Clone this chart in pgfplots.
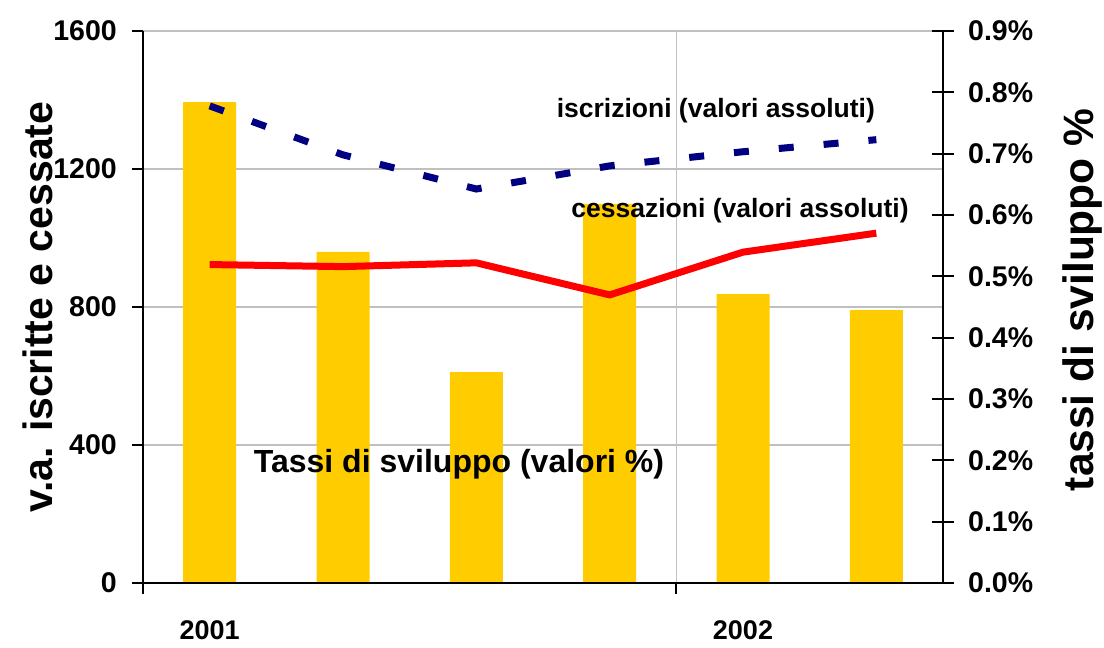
\documentclass[border=0pt]{standalone}
\usepackage{fontspec}
\setmainfont{Liberation Sans}
\usepackage{pgfplots}
\pgfplotsset{compat=1.18}
\definecolor{barc}{HTML}{FFCC00}
\definecolor{navyc}{HTML}{000080}
\definecolor{gridc}{HTML}{C0C0C0}
\begin{document}
\begin{tikzpicture}
\useasboundingbox (-143bp,-65bp) rectangle (961bp,583bp);
% grid only
\begin{axis}[at={(0,0)}, anchor=south west, scale only axis, width=800bp, height=552bp,
  xmin=-0.5, xmax=5.5, ymin=0, ymax=1600,
  axis line style={draw=none}, tick style={draw=none}, major tick length=0pt,
  xtick={-0.5,3.5}, xticklabels={}, ytick={400,800,1200,1600}, yticklabels={},
  xmajorgrids, ymajorgrids, grid style={gridc, line width=1.5bp}]
\addplot[draw=none] coordinates {(0,0)};
\end{axis}
% bars, right axis
\begin{axis}[at={(0,0)}, anchor=south west, scale only axis, width=800bp, height=552bp,
  xmin=-0.5, xmax=5.5, ymin=0, ymax=0.9,
  axis x line=none, axis y line*=right, axis line style={-, line width=2bp, black},
  ytick={0,0.1,0.2,0.3,0.4,0.5,0.6,0.7,0.8,0.9},
  yticklabels={0.0\%,0.1\%,0.2\%,0.3\%,0.4\%,0.5\%,0.6\%,0.7\%,0.8\%,0.9\%},
  tick align=center, major tick length=22bp, tick style={black, line width=2bp},
  yticklabel style={font=\fontsize{28.5bp}{32bp}\selectfont\bfseries, anchor=west, inner sep=0pt, xshift=14bp},
  ylabel={tassi di sviluppo \%},
  ylabel style={at={(axis description cs:1.17375,0.513)}, anchor=center, font=\fontsize{42.5bp}{48bp}\selectfont\bfseries}]
\addplot[ybar, bar width=53bp, fill=barc, draw=none] coordinates {(0,0.784)(1,0.540)(2,0.344)(3,0.618)(4,0.471)(5,0.445)};
\end{axis}
% lines, left axis
\begin{axis}[at={(0,0)}, anchor=south west, scale only axis, width=800bp, height=552bp,
  xmin=-0.5, xmax=5.5, ymin=0, ymax=1600,
  axis x line*=bottom, axis y line*=left, axis line style={-, line width=2bp, black},
  xtick={-0.5,3.5}, xticklabels={},
  ytick={0,400,800,1200,1600}, yticklabels={0,400,800,1200,1600},
  tick align=outside, major tick length=11bp, tick style={black, line width=2bp},
  yticklabel style={font=\fontsize{28.5bp}{32bp}\selectfont\bfseries, anchor=east, inner sep=0pt, xshift=-15bp},
  xticklabel style={font=\fontsize{27bp}{30bp}\selectfont\bfseries},
  extra x ticks={0,4}, extra x tick labels={2001,2002},
  extra x tick style={major tick length=0pt, xticklabel style={anchor=base, yshift=-56bp, inner sep=0pt}},
  ylabel={v.a. iscritte e cessate},
  ylabel style={at={(axis description cs:-0.13125,0.5)}, anchor=center, font=\fontsize{41bp}{48bp}\selectfont\bfseries}]
\addplot[navyc, line width=7bp, dash pattern=on 15bp off 30bp] coordinates {(0,1383)(1,1241)(2,1142)(3,1209)(4,1250)(5,1285)};
\addplot[red, line width=7bp] coordinates {(0,923)(1,917)(2,928)(3,835)(4,959)(5,1014)};
\node[anchor=base, font=\fontsize{26.5bp}{30bp}\selectfont\bfseries] at (rel axis cs:0.716,0.8433) {iscrizioni (valori assoluti)};
\node[anchor=base, font=\fontsize{26.5bp}{30bp}\selectfont\bfseries] at (rel axis cs:0.74625,0.6625) {cessazioni (valori assoluti)};
\node[anchor=base, font=\fontsize{32bp}{36bp}\selectfont\bfseries] at (rel axis cs:0.395,0.19928) {Tassi di sviluppo (valori \%)};
\end{axis}
\end{tikzpicture}
\end{document}
